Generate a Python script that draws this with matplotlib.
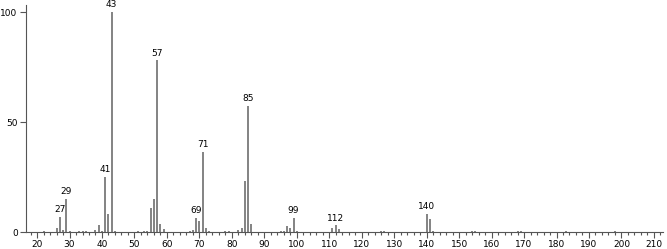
#!/usr/bin/env python3
import matplotlib
matplotlib.use('Agg')
import matplotlib.pyplot as plt
from matplotlib.ticker import MultipleLocator

# m/z and relative intensity
mz = [22, 26, 27, 28, 29, 30, 33, 34, 35, 38, 39, 40, 41, 42, 43, 44,
      51, 53, 54, 55, 56, 57, 58, 59, 67, 68, 69, 70, 71, 72, 73,
      78, 79, 82, 83, 84, 85, 86, 95, 96, 97, 98, 99, 100,
      111, 112, 113, 126, 127, 140, 141, 142, 154, 155, 168, 169, 183, 198]
intensity = [0.5, 2, 7, 0.8, 15, 0.6, 0.4, 0.5, 0.4, 1, 3, 0.5, 25, 8, 100, 0.7,
             0.5, 0.6, 0.5, 11, 15, 78, 3.6, 1.3, 0.6, 0.8, 6.5, 5, 36.5, 2, 0.5,
             0.5, 0.5, 1, 2, 23, 57.5, 3.6, 0.6, 0.6, 2.6, 1.8, 6.5, 0.5,
             2, 3, 1.5, 0.3, 0.3, 8.2, 6, 0.4, 0.3, 0.3, 0.3, 0.3, 0.6, 0.3]
labelled = [27, 29, 41, 43, 57, 69, 71, 85, 99, 112, 140]


def main():
    fig = plt.figure(figsize=(6.67, 2.49), dpi=100)
    ax = fig.add_axes([0.039, 0.068, 0.955, 0.912])

    ax.vlines(mz, 0, intensity, colors='#7a7a7a', linewidth=1.3)
    for m, v in zip(mz, intensity):
        if m in labelled:
            ax.text(m, v + 1.2, str(m), ha='center', va='bottom', fontsize=6.5)

    ax.set_xlim(16.6, 212.8)
    ax.set_ylim(0, 103.2)
    ax.spines['top'].set_visible(False)
    ax.spines['right'].set_visible(False)
    ax.spines['left'].set_color('#555555')
    ax.spines['bottom'].set_color('#555555')

    ax.xaxis.set_major_locator(MultipleLocator(10))
    ax.xaxis.set_minor_locator(MultipleLocator(2))
    ax.set_xticks(range(20, 211, 10))
    ax.set_yticks([0, 50, 100])
    ax.tick_params(axis='both', which='major', length=4, width=0.8,
                   labelsize=6.5, pad=2, color='#555555')
    ax.tick_params(axis='x', which='minor', length=2.5, width=0.8, color='#555555')

    fig.savefig('out.png', dpi=100)


if __name__ == '__main__':
    main()
